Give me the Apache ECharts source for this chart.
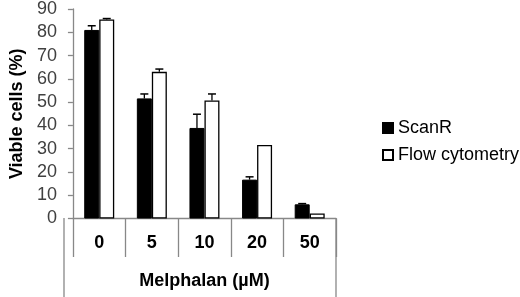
<!DOCTYPE html>
<html><head><meta charset="utf-8">
<script src="https://cdn.jsdelivr.net/npm/echarts@6/dist/echarts.min.js"></script>
<style>html,body{margin:0;padding:0;background:#fff}#c{width:520px;height:297px}</style>
</head><body><div id="c"></div>
<script>
const categories = ['0', '5', '10', '20', '50'];
const scanR = [81.0, 51.6, 38.9, 16.7, 6.1];
const scanRErr = [1.8, 1.9, 5.9, 1.2, 0.3];
const flow = [85.5, 63.0, 50.7, 31.6, 2.2];
const flowErr = [0.4, 1.2, 2.8, 0, 0];
const yTicks = [0, 10, 20, 30, 40, 50, 60, 70, 80, 90];

const font = 'Liberation Sans';
const chart = echarts.init(document.getElementById('c'));

function errSeries(vals, errs, idx) {
  return {
    type: 'custom',
    z: 5,
    silent: true,
    data: vals.map((v, i) => [i, v, v + errs[i]]),
    renderItem: function (params, api) {
      const i = api.value(0);
      const base = api.coord([i, api.value(1)]);
      const top = api.coord([i, api.value(2)]);
      const bw = 15;
      const x = base[0] + (idx === 0 ? -bw / 2 : bw / 2);
      if (api.value(2) - api.value(1) <= 0) return null;
      return {
        type: 'group',
        children: [
          { type: 'line', shape: { x1: x, y1: base[1], x2: x, y2: top[1] }, style: { stroke: '#000', lineWidth: 1.3 } },
          { type: 'line', shape: { x1: x - 4, y1: top[1], x2: x + 4, y2: top[1] }, style: { stroke: '#000', lineWidth: 1.5 } }
        ]
      };
    }
  };
}

chart.setOption({
  animation: false,
  textStyle: { fontFamily: font },
  grid: { left: 64, right: 184, top: 6, bottom: 78.5 },
  legend: {
    orient: 'vertical',
    left: 377, top: 114,
    itemWidth: 10, itemHeight: 10, itemGap: 9,
    textStyle: { fontFamily: font, fontSize: 18, color: '#000' },
    data: [
      { name: 'ScanR', icon: 'rect' },
      { name: 'Flow cytometry', icon: 'rect' }
    ]
  },
  xAxis: {
    type: 'category',
    data: categories,
    boundaryGap: true,
    axisLine: { lineStyle: { color: '#888', width: 1.3 } },
    axisTick: { show: true, length: 38.5, inside: false, lineStyle: { color: '#888', width: 1.3 } },
    axisLabel: { margin: 16, fontSize: 18, fontWeight: 'bold', color: '#000', fontFamily: font },
    name: 'Melphalan (µM)',
    nameLocation: 'middle',
    nameGap: 54,
    nameTextStyle: { fontSize: 18, fontWeight: 'bold', color: '#000', fontFamily: font }
  },
  yAxis: {
    type: 'value',
    min: 0, max: 90, interval: 10,
    axisLine: { show: true, lineStyle: { color: '#888', width: 1.3 } },
    axisTick: { show: true, length: 5, lineStyle: { color: '#888', width: 1.3 } },
    splitLine: { show: false },
    axisLabel: { margin: 16, fontSize: 18, color: '#404040', fontFamily: font,
      formatter: v => yTicks.includes(v) ? String(v) : '' },
    name: 'Viable cells (%)',
    nameLocation: 'middle',
    nameGap: 46,
    nameRotate: 90,
    nameTextStyle: { fontSize: 18, fontWeight: 'bold', color: '#000', fontFamily: font }
  },
  series: [
    { name: 'ScanR', type: 'bar', data: scanR, barWidth: 15, barGap: '0%',
      itemStyle: { color: '#000', borderColor: '#000', borderWidth: 1 } },
    { name: 'Flow cytometry', type: 'bar', data: flow, barWidth: 15,
      itemStyle: { color: '#fff', borderColor: '#000', borderWidth: 1.3 } },
    errSeries(scanR, scanRErr, 0),
    errSeries(flow, flowErr, 1)
  ],
  graphic: [
    { type: 'line', shape: { x1: 64, y1: 218, x2: 64, y2: 297 }, style: { stroke: '#888', lineWidth: 1.3 } },
    { type: 'line', shape: { x1: 336, y1: 218, x2: 336, y2: 297 }, style: { stroke: '#888', lineWidth: 1.3 } }
  ]
});
</script></body></html>
